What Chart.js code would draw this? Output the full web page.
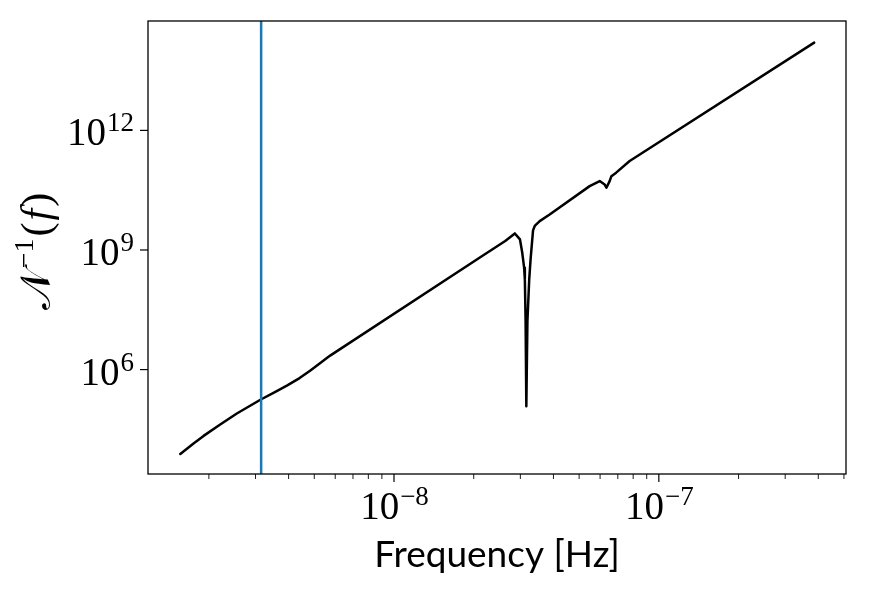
<!DOCTYPE html>
<html>
<head>
<meta charset="utf-8">
<script src="https://cdn.jsdelivr.net/npm/chart.js@4.4.1/dist/chart.umd.min.js"></script>
<style>
  html, body { margin: 0; padding: 0; background: #fff; }
  canvas { display: block; }
</style>
</head>
<body>
<canvas id="noiseChart" width="869" height="592" style="width:869px;height:592px"></canvas>
<script>
// frequency samples [Hz] and inverse noise N^-1(f)
const freqHz = [
  1.56e-9, 1.75e-9, 1.91e-9, 2.2e-9, 2.55e-9, 3.13e-9, 3.55e-9, 3.94e-9,
  4.4e-9, 4.82e-9, 5.3e-9, 5.74e-9,
  2.11e-8, 2.63e-8, 2.86e-8, 2.99e-8, 3.05e-8, 3.10e-8, 3.12e-8, 3.14e-8,
  3.16e-8, 3.19e-8, 3.24e-8, 3.28e-8, 3.35e-8, 3.40e-8, 3.55e-8, 3.87e-8,
  5.48e-8, 5.98e-8, 6.24e-8, 6.34e-8, 6.52e-8, 6.62e-8, 6.90e-8,
  7.76e-8, 3.86e-7
];
const invNoise = [
  7.6e3, 1.40e4, 2.17e4, 4.14e4, 7.9e4, 1.75e5, 2.71e5, 3.94e5,
  6.12e5, 9.35e5, 1.5e6, 2.24e6,
  6.5e8, 1.68e9, 2.6e9, 1.84e9, 8.5e8, 3.6e8, 1.8e8, 1.6e7,
  1.2e5, 1.6e7, 1.8e8, 6.0e8, 3.1e9, 4.0e9, 5.3e9, 7.8e9,
  4.0e10, 5.35e10, 4.4e10, 3.65e10, 5.35e10, 7.1e10, 8.7e10,
  1.7e11, 1.59e14
];
// vertical marker (1 / 10 yr)
const markerHz = 3.15e-9;

// axis limits and ticks
const xLimits = [1.178e-9, 5.09e-7];
const yLimits = [2.4e3, 5.55e14];
const xMajor = [1e-8, 1e-7];
const xMajorExp = ['−8', '−7'];
const xMinor = [2e-9, 3e-9, 4e-9, 5e-9, 6e-9, 7e-9, 8e-9, 9e-9,
                2e-8, 3e-8, 4e-8, 5e-8, 6e-8, 7e-8, 8e-8, 9e-8,
                2e-7, 3e-7, 4e-7, 5e-7];
const yMajor = [1e6, 1e9, 1e12];
const yMajorExp = ['6', '9', '12'];

const serif = '"Liberation Serif", "DejaVu Serif", serif';

function drawPower(ctx, exp, x, baseline, align) {
  ctx.font = '39px ' + serif;
  const wb = ctx.measureText('10').width;
  ctx.font = '27px ' + serif;
  const we = ctx.measureText(exp).width;
  let x0 = x - (wb + we) / 2;
  if (align === 'right') x0 = x - wb - we;
  ctx.textAlign = 'left';
  ctx.textBaseline = 'alphabetic';
  ctx.font = '39px ' + serif;
  ctx.fillText('10', x0, baseline);
  ctx.font = '27px ' + serif;
  ctx.fillText(exp, x0 + wb + 1, baseline - 14);
}

const axesPlugin = {
  id: 'axesPlugin',
  afterDatasetsDraw(chart) {
    const ctx = chart.ctx;
    const area = chart.chartArea;
    const xs = chart.scales.x;
    // vertical marker line
    const px = xs.getPixelForValue(markerHz);
    ctx.save();
    ctx.strokeStyle = '#1f77b4';
    ctx.lineWidth = 2.5;
    ctx.beginPath();
    ctx.moveTo(px, area.top);
    ctx.lineTo(px, area.bottom);
    ctx.stroke();
    ctx.restore();
  },
  afterDraw(chart) {
    const ctx = chart.ctx;
    const area = chart.chartArea;
    const xs = chart.scales.x;
    const ys = chart.scales.y;
    ctx.save();
    ctx.fillStyle = '#000';
    ctx.strokeStyle = '#000';

    // frame
    ctx.lineWidth = 1.3;
    ctx.strokeRect(area.left, area.top, area.right - area.left, area.bottom - area.top);

    // x ticks
    ctx.lineWidth = 1.2;
    xMajor.forEach((v, i) => {
      const p = xs.getPixelForValue(v);
      ctx.beginPath();
      ctx.moveTo(p, area.bottom);
      ctx.lineTo(p, area.bottom + 8);
      ctx.stroke();
      drawPower(ctx, xMajorExp[i], p, 519, 'center');
    });
    ctx.lineWidth = 0.9;
    xMinor.forEach(v => {
      const p = xs.getPixelForValue(v);
      ctx.beginPath();
      ctx.moveTo(p, area.bottom);
      ctx.lineTo(p, area.bottom + 5);
      ctx.stroke();
    });

    // y ticks
    ctx.lineWidth = 1.2;
    yMajor.forEach((v, i) => {
      const p = ys.getPixelForValue(v);
      ctx.beginPath();
      ctx.moveTo(area.left, p);
      ctx.lineTo(area.left - 8, p);
      ctx.stroke();
      drawPower(ctx, yMajorExp[i], area.left - 15, p + 15, 'right');
    });

    // x title
    ctx.font = '37px Lato, "Open Sans", sans-serif';
    ctx.textAlign = 'center';
    ctx.textBaseline = 'alphabetic';
    ctx.fillText('Frequency [Hz]', (area.left + area.right) / 2, 567);

    // y title: N^-1(f), rotated
    ctx.translate(50, (area.top + area.bottom) / 2 + 3);
    ctx.rotate(-Math.PI / 2);
    const parts = [
      { t: '𝒩', f: '42px "DejaVu Serif", serif', dy: 0 },
      { t: '−1', f: '28px ' + serif, dy: -17 },
      { t: '(', f: '42px ' + serif, dy: 0 },
      { t: 'f', f: 'italic 42px ' + serif, dy: 0 },
      { t: ')', f: '42px ' + serif, dy: 0 }
    ];
    let total = 0;
    parts.forEach(p => { ctx.font = p.f; p.w = ctx.measureText(p.t).width; total += p.w + 2; });
    let cx = -total / 2;
    ctx.textAlign = 'left';
    parts.forEach(p => {
      ctx.font = p.f;
      ctx.fillText(p.t, cx, p.dy);
      cx += p.w + 2;
    });
    ctx.restore();
  }
};

const ctx = document.getElementById('noiseChart').getContext('2d');
const noiseChart = new Chart(ctx, {
  type: 'line',
  data: {
    datasets: [{
      data: freqHz.map((f, i) => ({ x: f, y: invNoise[i] })),
      borderColor: '#000',
      borderWidth: 2.5,
      pointRadius: 0,
      fill: false,
      tension: 0,
      borderJoinStyle: 'round',
      borderCapStyle: 'round'
    }]
  },
  options: {
    responsive: false,
    animation: false,
    devicePixelRatio: 1,
    layout: { padding: { top: 21, right: 23, left: 0, bottom: 0 } },
    plugins: {
      legend: { display: false },
      tooltip: { enabled: false }
    },
    scales: {
      x: {
        type: 'logarithmic',
        min: xLimits[0],
        max: xLimits[1],
        grid: { display: false },
        border: { display: false },
        ticks: { display: false },
        afterFit(s) { s.height = 118; }
      },
      y: {
        type: 'logarithmic',
        min: yLimits[0],
        max: yLimits[1],
        grid: { display: false },
        border: { display: false },
        ticks: { display: false },
        afterFit(s) { s.width = 148; }
      }
    }
  },
  plugins: [axesPlugin]
});
</script>
</body>
</html>
